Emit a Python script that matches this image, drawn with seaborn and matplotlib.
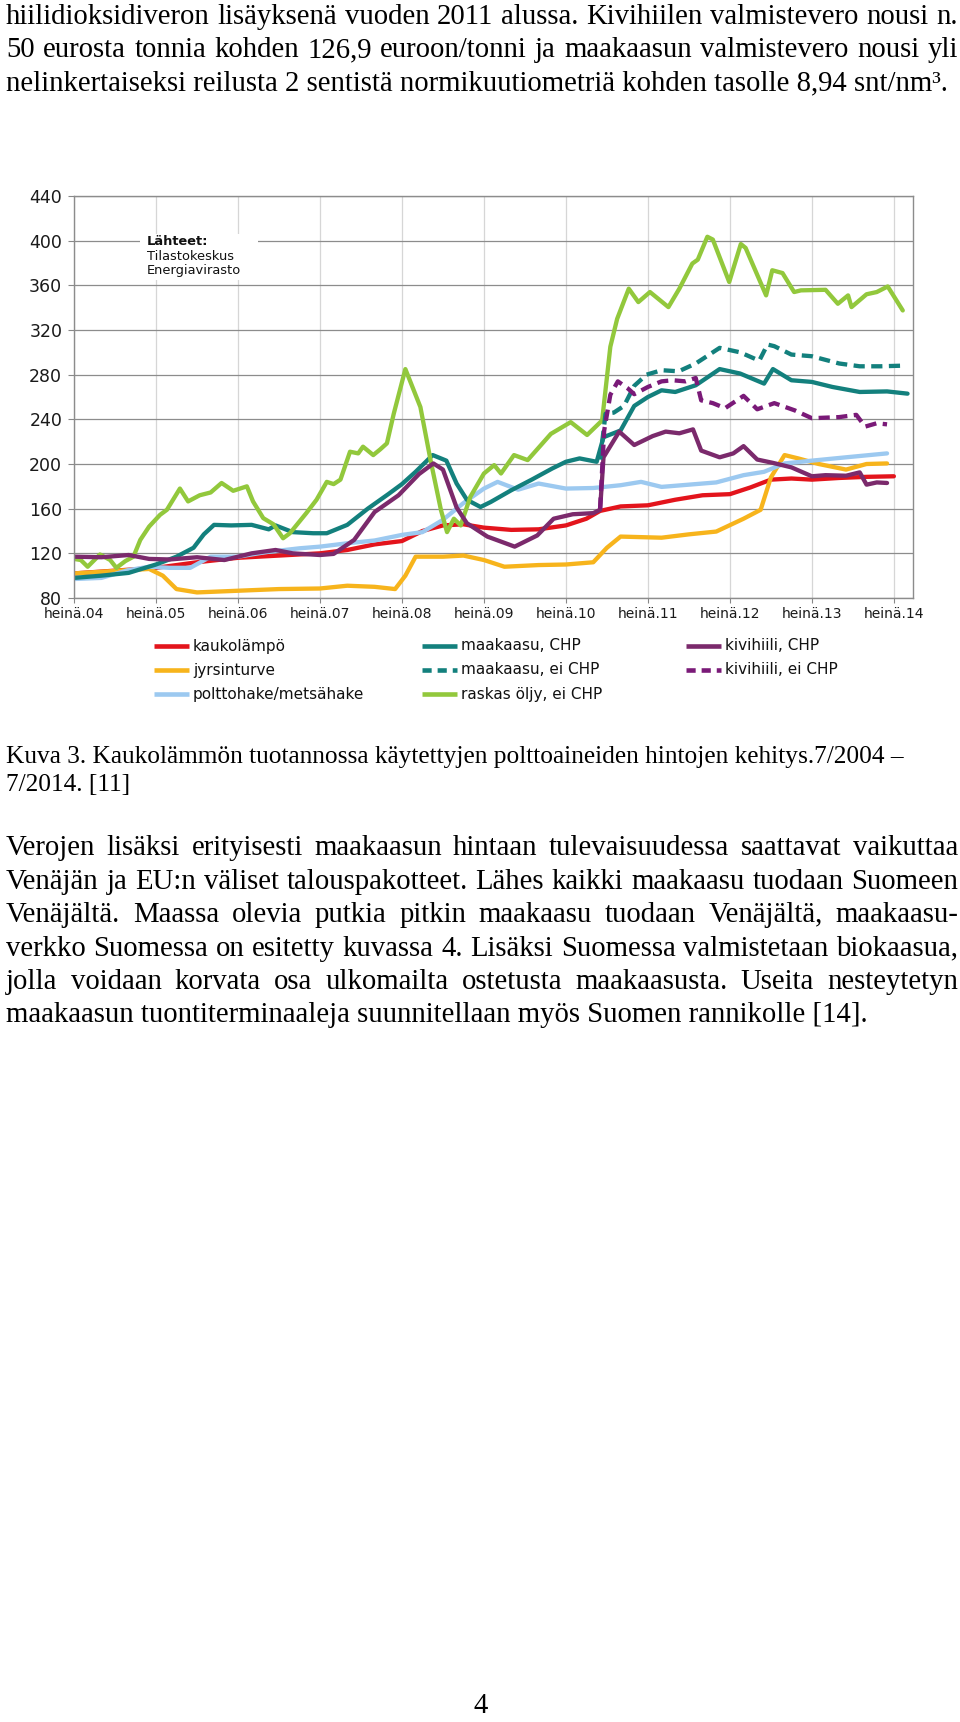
import matplotlib
matplotlib.use("Agg")
import pandas as pd
import seaborn as sns
import matplotlib.pyplot as plt
from matplotlib.lines import Line2D
from matplotlib.patches import Rectangle

# months counted from heinäkuu 2004 (0 = heinä.04, 120 = heinä.14)
kaukolampo_m = [0, 6, 12, 18, 24, 30, 36, 40, 44, 48, 51, 54, 57, 60, 64, 68, 72, 75, 77, 80, 84, 88, 92, 96, 99, 102, 105, 108, 112, 116, 120]
kaukolampo_v = [102, 104.5, 107, 112, 116, 118, 120, 123, 128, 131, 140, 145, 146, 143, 141, 141.5, 145, 151, 158, 162, 163, 168, 172, 173, 179, 186, 187, 186, 187.5, 188.5, 189]

jyrsinturve_m = [0, 4, 8, 11, 13, 15, 18, 24, 30, 36, 40, 44, 47, 48.5, 50, 54, 57, 60, 63, 68, 72, 76, 78, 80, 86, 90, 94, 98, 100.5, 102, 104, 106, 109, 113, 116, 119]
jyrsinturve_v = [102, 103.5, 105, 106, 100, 88, 85, 86.5, 88, 88.5, 91, 90, 88, 100, 117, 117, 118, 114, 108, 109.5, 110, 112, 125, 135, 134, 137, 139.5, 151, 159, 188, 208, 205, 200, 195, 200, 200.5]

hake_m = [0, 4, 8, 11, 14, 17, 20, 24, 28, 33, 36, 40, 44, 48, 51, 54, 57, 60, 62, 65, 68, 72, 76, 80, 83, 86, 90, 94, 98, 101, 104, 108, 113, 119]
hake_v = [97, 98, 105, 108, 107, 107, 117, 117, 121, 124.5, 126, 129, 131.5, 136.5, 139, 150, 165, 178, 184, 177, 182.5, 178, 178.5, 181, 184, 179.5, 181.5, 183.5, 190, 193, 200.5, 203, 206, 209.5]

kaasu_chp_m = [0, 4, 8, 12, 15, 17.5, 19, 20.5, 23, 26, 28.5, 29.5, 32, 35, 37, 40, 43, 46, 48, 50, 52.5, 54.5, 56, 57.5, 59.5, 61, 64, 67, 70, 72, 74, 76.5, 77.5, 80, 82, 84, 86, 88, 91, 94.5, 97.5, 101, 102.3, 105, 108, 111, 115, 119, 122]
kaasu_chp_v = [98, 100, 102.5, 110, 117, 125, 137, 145.5, 145, 145.5, 141.5, 145, 139, 138, 138, 145.5, 160, 173, 182, 193, 208, 203, 182.5, 168, 161.5, 166, 176.5, 186, 196, 202, 205, 202, 224, 230, 252, 260, 266, 264.5, 270.5, 285, 281, 272, 285, 275, 273.5, 269, 264.5, 265, 263]

kaasu_ei_m = [77, 77.8, 79, 80.5, 82, 83.8, 86, 88.5, 91, 94.5, 97.5, 100.3, 101.5, 102.5, 105, 108, 112, 115, 118, 121]
kaasu_ei_v = [204, 245, 246, 252, 270, 280, 284, 283, 290, 304, 300, 292.5, 307, 305.5, 298, 296.5, 290, 287.5, 287.5, 288]

oljy_m = [0, 1, 2, 3.8, 5.3, 6.2, 7.5, 8.7, 9.7, 11, 12.6, 13.6, 15.5, 16.7, 18.4, 20, 21.6, 23.3, 25.3, 26.2, 27.7, 29.2, 30.6, 31.6, 34, 35.5, 37, 38, 39, 40.4, 41.6, 42.3, 43.8, 44.8, 45.8, 46.8, 48.5, 50.7, 52.2, 53.7, 54.6, 55.6, 56.6, 58, 60, 61.5, 62.5, 64.4, 66.4, 69.8, 72.7, 75.1, 77.3, 78.5, 79.5, 81.2, 82.6, 84.3, 87, 88.6, 90.5, 91.3, 92.7, 93.5, 95.9, 97.6, 98.3, 101.3, 102.2, 103.7, 105.4, 106.4, 110, 111.8, 113.3, 113.8, 116, 117.5, 119.1, 121.3]
oljy_v = [115, 114, 108, 119, 114, 107, 113, 117, 132, 144, 154.5, 159, 178, 166.5, 172, 174.5, 183, 176, 180, 166.5, 151.5, 146, 133.5, 138, 156, 168, 184, 182, 186, 211, 209.5, 215.5, 208, 213, 218.5, 245, 285, 251, 203, 159, 139, 151, 145, 170.5, 191.5, 199, 191.5, 208, 203.5, 227, 237.5, 226, 239, 305, 330, 357, 345, 354, 340.5, 357, 379.5, 383, 403.5, 401, 363, 397, 393.5, 351, 373.5, 371, 354, 355.5, 356, 343.5, 351, 340.5, 352, 354, 359, 337.5]

hiili_chp_m = [0, 4, 8, 11, 14, 18, 22, 26, 29.5, 32, 36, 38, 41, 44, 47.5, 50.5, 52.6, 54, 56, 57.5, 60.5, 64.5, 67.8, 70.2, 73, 76, 77, 77.5, 79.8, 82, 84.7, 86.6, 88.6, 90.6, 91.8, 94.5, 96.5, 98, 100, 102.3, 105, 108, 110, 113, 115, 116, 117.5, 119]
hiili_chp_v = [117, 116.5, 118.5, 115, 114.5, 116.5, 114, 120, 123, 120, 118.5, 119.5, 132, 157, 172, 191, 200.5, 195, 161, 147, 135, 126, 136, 151, 155, 156, 159, 206, 229, 217, 225, 229, 227.5, 231, 212, 206, 209.5, 216, 204, 201, 197, 189, 190, 189.5, 192.5, 181.5, 183.5, 183]

hiili_ei_m = [77, 77.6, 78.5, 79.6, 81, 82, 84, 86, 87.6, 89.5, 91, 91.8, 93.5, 95.3, 98, 100, 102.5, 105.5, 108, 112, 114.5, 115.8, 117.5, 119]
hiili_ei_v = [160, 230, 262, 274, 268, 262.5, 269, 274, 275, 274, 277, 257, 254.5, 250, 261, 249, 254.5, 248, 241, 242, 244, 233.5, 236.5, 235.5]

year_ticks = [0, 12, 24, 36, 48, 60, 72, 84, 96, 108, 120]
year_labels = ["heinä.04", "heinä.05", "heinä.06", "heinä.07", "heinä.08", "heinä.09",
               "heinä.10", "heinä.11", "heinä.12", "heinä.13", "heinä.14"]
y_ticks = [80, 120, 160, 200, 240, 280, 320, 360, 400, 440]

series = [
    ("kaukolämpö", kaukolampo_m, kaukolampo_v, "#e3141c", False),
    ("jyrsinturve", jyrsinturve_m, jyrsinturve_v, "#f7b41c", False),
    ("polttohake/metsähake", hake_m, hake_v, "#9cc9f0", False),
    ("maakaasu, CHP", kaasu_chp_m, kaasu_chp_v, "#13807d", False),
    ("maakaasu, ei CHP", kaasu_ei_m, kaasu_ei_v, "#13807d", True),
    ("raskas öljy, ei CHP", oljy_m, oljy_v, "#92c83c", False),
    ("kivihiili, CHP", hiili_chp_m, hiili_chp_v, "#7b2a6c", False),
    ("kivihiili, ei CHP", hiili_ei_m, hiili_ei_v, "#7a1a78", True),
]

top_lines = [
    ("hiilidioksidiveron lisäyksenä vuoden 2011 alussa. Kivihiilen valmistevero nousi n.", True),
    ("50 eurosta tonnia kohden 126,9 euroon/tonni ja maakaasun valmistevero nousi yli", True),
    ("nelinkertaiseksi reilusta 2 sentistä normikuutiometriä kohden tasolle 8,94 snt/nm³.", False),
]
caption_lines = [
    "Kuva 3. Kaukolämmön tuotannossa käytettyjen polttoaineiden hintojen kehitys.7/2004 –",
    "7/2014. [11]",
]
para_lines = [
    ("Verojen lisäksi erityisesti maakaasun hintaan tulevaisuudessa saattavat vaikuttaa", True),
    ("Venäjän ja EU:n väliset talouspakotteet. Lähes kaikki maakaasu tuodaan Suomeen", True),
    ("Venäjältä. Maassa olevia putkia pitkin maakaasu tuodaan Venäjältä, maakaasu-", True),
    ("verkko Suomessa on esitetty kuvassa 4. Lisäksi Suomessa valmistetaan biokaasua,", True),
    ("jolla voidaan korvata osa ulkomailta ostetusta maakaasusta. Useita nesteytetyn", True),
    ("maakaasun tuontiterminaaleja suunnitellaan myös Suomen rannikolle [14].", False),
]

W, H = 960, 1722
sns.set_theme(style="white")
plt.rcParams['font.family'] = ['DejaVu Sans']

fig = plt.figure(figsize=(W / 100, H / 100), dpi=100)
fig.patch.set_facecolor("white")

def fx(px):
    return px / W

def fy(py):
    return 1 - py / H

# chart
ax = fig.add_axes([fx(74), fy(598), fx(913) - fx(74), fy(196) - fy(598)])
ax.set_facecolor("white")
for label, m, v, color, dashed in series:
    df = pd.DataFrame({"m": m, "v": v})
    if dashed:
        sns.lineplot(data=df, x="m", y="v", ax=ax, color=color, linewidth=3.1,
                     estimator=None, sort=False, zorder=3,
                     linestyle=(0, (2.6, 1.5)), dash_capstyle="butt")
    else:
        sns.lineplot(data=df, x="m", y="v", ax=ax, color=color, linewidth=3.1,
                     estimator=None, sort=False, zorder=2,
                     solid_capstyle="round", solid_joinstyle="round")

ax.set_xlim(0, 122.8)
ax.set_ylim(80, 440)
ax.set_xticks(year_ticks)
ax.set_xticklabels(year_labels, fontsize=10, color="#1a1a1a")
ax.set_yticks(y_ticks)
ax.set_yticklabels([str(t) for t in y_ticks], fontsize=12.5, color="#1a1a1a")
ax.set_xlabel("")
ax.set_ylabel("")
ax.tick_params(axis="y", length=4.5, width=0.8, color="#888888", pad=4, left=True)
ax.tick_params(axis="x", length=3.5, width=0.8, color="#888888", pad=3, bottom=True)
ax.set_axisbelow(True)
ax.yaxis.grid(True, color="#8c8c8c", linewidth=0.9)
ax.xaxis.grid(True, color="#d6d6d6", linewidth=0.9)
for s in ax.spines.values():
    s.set_visible(True)
    s.set_color("#8c8c8c")
    s.set_linewidth(1.0)

# source note with white box over the grid
ax.add_patch(Rectangle((9.7, 365), 17.2, 41, facecolor="white", edgecolor="none", zorder=1.5))
fig.text(fx(147), fy(241.5), "Lähteet:", fontsize=9.4, fontweight="bold", va="center", color="#111111")
fig.text(fx(147), fy(256), "Tilastokeskus", fontsize=9.4, va="center", color="#111111")
fig.text(fx(147), fy(270.5), "Energiavirasto", fontsize=9.4, va="center", color="#111111")

# legend drawn by hand in three columns
col_x = [154, 422, 686]
row_y = [646, 670, 694]
for i, (label, m, v, color, dashed) in enumerate(series):
    c, r = (i // 3, i % 3)
    x0 = col_x[c]
    y0 = row_y[r]
    ls = (0, (2.0, 1.3)) if dashed else "-"
    fig.add_artist(Line2D([fx(x0), fx(x0 + 35)], [fy(y0), fy(y0)], transform=fig.transFigure,
                          color=color, linewidth=3.3, linestyle=ls, solid_capstyle="butt"))
    fig.text(fx(x0 + 39), fy(y0), label, fontsize=11, va="center", color="#111111")

# page text
renderer = fig.canvas.get_renderer()
serif = "Liberation Serif"

def width_of(s, size):
    t = fig.text(0, 0, s, fontsize=size, family=serif)
    w = t.get_window_extent(renderer).width
    t.remove()
    return w

body_size = 16 * 862 / width_of(para_lines[-1][0], 16)
cap_size = 16 * 901 / width_of(caption_lines[0], 16)
left, right = 6, 958

def put_line(s, base, size, justify):
    if not justify:
        fig.text(fx(left), fy(base), s, fontsize=size, family=serif, va="baseline", color="black")
        return
    words = s.split(" ")
    widths = [width_of(w, size) for w in words]
    gap = (right - left - sum(widths)) / (len(words) - 1)
    x = left
    for w, wd in zip(words, widths):
        fig.text(fx(x), fy(base), w, fontsize=size, family=serif, va="baseline", color="black")
        x += wd + gap

for (s, j), b in zip(top_lines, [24, 57, 90]):
    put_line(s, b, body_size, j)
for s, b in zip(caption_lines, [763, 791.5]):
    put_line(s, b, cap_size, False)
for (s, j), b in zip(para_lines, [855, 888.5, 922, 955.5, 989, 1022.5]):
    put_line(s, b, body_size, j)

fig.text(fx(481), fy(1706), "4", fontsize=body_size, family=serif, va="center", ha="center", color="black")

fig.savefig("out.png", dpi=100, facecolor="white")
